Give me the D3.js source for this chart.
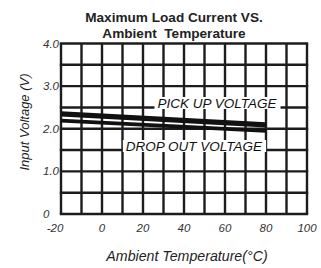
<!DOCTYPE html>
<html>
<head>
<meta charset="utf-8">
<script src="https://cdn.jsdelivr.net/npm/d3@7"></script>
<style>
  body { margin: 0; background: #fff; }
  text { font-family: "Liberation Sans", Arial, sans-serif; }
</style>
</head>
<body>
<script>
// values
var xTicks = [-20, 0, 20, 40, 60, 80, 100]
var yTicks = [0, 1, 2, 3, 4]
var temps = [-20, 80]
var pickUp = [2.35, 2.09]
var dropOut = [2.19, 1.95]
var titleLines = ["Maximum Load Current VS.", "Ambient  Temperature"]

var width = 321
var height = 268

var svg = d3.select("body").append("svg")
            .attr("width", width)
            .attr("height", height)

var xScale = d3.scaleLinear().domain([-20, 100]).range([61, 307])
var yScale = d3.scaleLinear().domain([0, 4]).range([214, 43.5])

// grid, every 10 degrees and every 0.5 V
var grid = svg.append("g")
grid.selectAll(".vg")
    .data(d3.range(-20, 101, 10))
    .enter().append("line")
    .attr("x1", d => xScale(d)).attr("x2", d => xScale(d))
    .attr("y1", yScale(0)).attr("y2", yScale(4))
    .attr("stroke", "#1c1c1c").attr("stroke-width", 2.4)
grid.selectAll(".hg")
    .data(d3.range(0, 4.01, 0.5))
    .enter().append("line")
    .attr("y1", d => yScale(d)).attr("y2", d => yScale(d))
    .attr("x1", xScale(-20) - 1.2).attr("x2", xScale(100) + 1.2)
    .attr("stroke", "#1c1c1c").attr("stroke-width", 2.4)

// the two curves
var line = d3.line()
             .x(function(d, i){ return xScale(temps[i]) })
             .y(function(d){ return yScale(d) })

svg.append("path").datum(pickUp)
   .attr("d", line).attr("fill", "none")
   .attr("stroke", "#111").attr("stroke-width", 5.2)
svg.append("path").datum(dropOut)
   .attr("d", line).attr("fill", "none")
   .attr("stroke", "#111").attr("stroke-width", 3.8)

// curve labels on white boxes
var labels = [
  {text: "PICK UP VOLTAGE", x: 217, y: 107.5},
  {text: "DROP OUT VOLTAGE", x: 194, y: 150.5}
]
labels.forEach(function(l){
  var t = svg.append("text")
     .attr("x", l.x).attr("y", l.y)
     .attr("text-anchor", "middle")
     .attr("font-size", 13.5)
     .attr("font-style", "italic")
     .attr("fill", "#111")
     .text(l.text)
  var b = t.node().getBBox()
  svg.insert("rect", "text")
     .attr("x", b.x - 3).attr("y", b.y + 1.5)
     .attr("width", b.width + 6).attr("height", b.height - 3)
     .attr("fill", "#fff")
})

// tick labels
svg.selectAll(".xt")
   .data(xTicks)
   .enter().append("text")
   .attr("x", d => xScale(d) - (d < 0 ? 6 : 0))
   .attr("y", 232)
   .attr("text-anchor", "middle")
   .attr("font-size", 11.5)
   .attr("font-style", "italic")
   .attr("fill", "#333")
   .text(d => d)
svg.selectAll(".yt")
   .data(yTicks)
   .enter().append("text")
   .attr("x", 43)
   .attr("y", d => yScale(d) + 4)
   .attr("font-size", 11.5)
   .attr("font-style", "italic")
   .attr("fill", "#333")
   .text(d => d == 0 ? "0" : d3.format(".1f")(d))

// title
svg.selectAll(".title")
   .data(titleLines)
   .enter().append("text")
   .attr("x", 174)
   .attr("y", (d, i) => 22 + i * 16)
   .attr("text-anchor", "middle")
   .attr("font-size", 13.6)
   .attr("font-weight", "bold")
   .attr("fill", "#222")
   .attr("xml:space", "preserve")
   .style("white-space", "pre")
   .text(d => d)

// axis titles
svg.append("text")
   .attr("x", 187).attr("y", 261)
   .attr("text-anchor", "middle")
   .attr("font-size", 14.2)
   .attr("font-style", "italic")
   .attr("fill", "#222")
   .text("Ambient Temperature(°C)")
svg.append("text")
   .attr("transform", "translate(29,122) rotate(-90)")
   .attr("text-anchor", "middle")
   .attr("font-size", 13)
   .attr("font-style", "italic")
   .attr("fill", "#222")
   .text("Input Voltage (V)")
</script>
</body>
</html>
